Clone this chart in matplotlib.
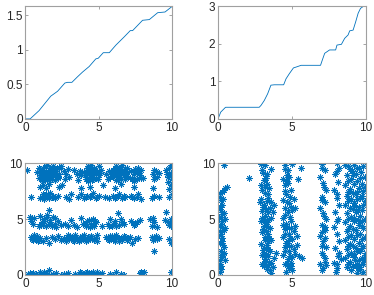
import numpy as np
import matplotlib
matplotlib.use("Agg")
from matplotlib import pyplot as plt
from matplotlib.ticker import FormatStrFormatter

# top-left curve (x, cumulative value)
tl_x = [0, 0.32, 0.93, 1.5, 1.73, 2.19, 2.69, 2.87, 3.17, 3.55, 3.9, 4.35, 4.8, 4.97,
        5.31, 5.72, 6.17, 6.74, 7.15, 7.31, 7.99, 8.45, 9.02, 9.52, 10]
tl_y = [0, 0, 0.12, 0.27, 0.33, 0.40, 0.52, 0.53, 0.53, 0.61, 0.68, 0.76, 0.87, 0.88,
        0.96, 0.96, 1.07, 1.19, 1.28, 1.28, 1.43, 1.44, 1.54, 1.55, 1.63]

# top-right staircase
tr_x = [0, 0.18, 0.48, 0.52, 2.78, 2.9, 3.12, 3.35, 3.57, 3.8, 4.43, 4.59, 4.82, 5.09,
        5.32, 5.61, 6.92, 7.04, 7.2, 7.53, 7.94, 8.03, 8.33, 8.55, 8.78, 8.89, 9.12,
        9.3, 9.46, 9.62, 9.8, 10]
tr_y = [0, 0.18, 0.30, 0.31, 0.31, 0.36, 0.49, 0.67, 0.90, 0.91, 0.91, 1.07, 1.21, 1.36,
        1.39, 1.43, 1.43, 1.57, 1.75, 1.84, 1.84, 1.97, 1.99, 2.15, 2.24, 2.35, 2.37,
        2.60, 2.82, 2.95, 3.0, 3.0]

# bottom-left scatter, grouped by horizontal band
bl_band9 = [(0.1, 9.4), (0.8, 9.2), (0.9, 8.7), (1.0, 9.5), (1.0, 8.9), (1.1, 9.1), (1.1, 8.5),
            (1.2, 9.6), (1.2, 9.0), (1.3, 8.7), (1.3, 9.3), (1.4, 8.9), (1.4, 9.7), (1.5, 9.1),
            (1.5, 8.6), (1.6, 9.4), (1.6, 8.8), (1.7, 9.0), (1.7, 9.6), (1.8, 8.6), (1.8, 9.2),
            (1.9, 8.9), (1.9, 9.5), (2.0, 9.1), (2.0, 8.5), (2.1, 9.3), (2.2, 8.8), (2.3, 9.6),
            (2.3, 9.0), (1.2, 8.4), (1.5, 9.8), (2.6, 9.3), (2.7, 8.6), (2.8, 9.0), (2.9, 9.5),
            (3.0, 8.8), (3.3, 9.4), (3.5, 9.0), (3.6, 8.5), (3.7, 9.3), (3.8, 8.9), (4.0, 9.2),
            (4.1, 8.6), (4.2, 9.6), (4.2, 9.0), (4.3, 8.4), (4.4, 9.4), (4.4, 8.8), (4.5, 9.8),
            (4.5, 9.1), (4.6, 8.6), (4.7, 9.5), (4.7, 9.0), (4.8, 8.7), (4.9, 9.3), (5.0, 8.9),
            (5.0, 9.7), (5.1, 9.1), (4.3, 9.7), (4.6, 9.3), (5.5, 9.0), (5.6, 8.6), (5.7, 9.3),
            (5.8, 8.8), (5.9, 9.1), (6.0, 9.4), (6.0, 8.8), (6.1, 9.1), (6.2, 8.5), (6.2, 9.7),
            (6.3, 9.2), (6.4, 8.8), (6.4, 9.5), (6.5, 9.0), (6.5, 8.6), (6.6, 9.8), (6.6, 9.3),
            (6.7, 8.9), (6.8, 9.5), (6.8, 8.6), (6.9, 9.2), (7.0, 8.8), (6.3, 8.5), (6.1, 9.6),
            (7.2, 9.3), (7.3, 8.7), (7.4, 9.0), (7.5, 9.5), (7.6, 8.6), (7.7, 9.2), (7.8, 8.9),
            (7.9, 9.4), (8.0, 8.7), (7.4, 8.4), (8.7, 9.0), (8.8, 8.6), (8.9, 9.3), (9.0, 8.8),
            (9.1, 9.1), (9.6, 9.4), (9.7, 8.8), (9.8, 9.6), (9.9, 9.1), (10.0, 8.6), (9.7, 8.3),
            (9.9, 9.8), (0.9, 9.6), (1.05, 9.25), (1.35, 9.05), (1.45, 8.45), (1.75, 8.75),
            (1.85, 9.75), (2.05, 8.95), (2.15, 9.55), (2.25, 8.65), (4.05, 8.9), (4.25, 9.3),
            (4.35, 9.05), (4.55, 8.5), (4.65, 9.6), (4.85, 9.2), (4.95, 8.6), (5.15, 9.4),
            (6.05, 9.15), (6.25, 8.95), (6.35, 9.55), (6.45, 9.25), (6.55, 9.65), (6.75, 9.15),
            (6.85, 8.85), (6.95, 9.55), (7.25, 8.55), (7.45, 9.25), (7.65, 9.55), (7.85, 8.65),
            (9.65, 9.05), (9.95, 8.9), (8.8, 9.4), (1.15, 8.8), (1.65, 8.55), (2.45, 9.7)]
bl_band8 = [(1.0, 7.9), (1.2, 8.0), (1.4, 7.8), (1.6, 8.1), (2.3, 7.9), (2.5, 8.0), (3.8, 7.8),
            (4.4, 7.9), (5.3, 8.0), (6.1, 7.8), (6.5, 8.1), (7.4, 7.9), (8.7, 7.8), (9.9, 8.0),
            (9.8, 7.7)]
bl_band7 = [(0.4, 7.0), (1.0, 6.9), (1.2, 7.2), (1.3, 6.8), (1.5, 7.1), (1.6, 6.9), (1.7, 7.3),
            (1.8, 7.0), (2.0, 6.9), (2.2, 7.1), (2.8, 7.0), (3.0, 6.8), (3.1, 7.2), (3.6, 7.0),
            (3.8, 7.2), (4.0, 6.9), (4.2, 7.1), (4.4, 7.0), (4.6, 7.3), (4.8, 6.9), (5.0, 7.1),
            (5.4, 7.0), (5.7, 6.9), (6.0, 7.1), (6.2, 7.0), (6.4, 7.2), (6.6, 6.9), (6.8, 7.0),
            (7.2, 7.1), (7.4, 6.9), (7.6, 7.0), (7.9, 6.8), (8.6, 6.9), (8.8, 7.1), (9.1, 7.0),
            (9.8, 7.0), (10.0, 7.2), (1.1, 7.0), (1.4, 7.2), (1.9, 7.1), (4.1, 7.0), (4.5, 7.1),
            (4.9, 7.0), (6.1, 6.9), (6.3, 7.1), (6.7, 7.1), (7.3, 7.0), (7.7, 7.2)]
bl_band5 = [(0.3, 5.2), (0.4, 4.8), (0.5, 4.6), (0.6, 5.1), (0.9, 4.4), (1.0, 5.3), (1.1, 4.7),
            (1.2, 4.5), (1.3, 5.0), (1.4, 4.4), (1.5, 5.4), (1.6, 5.8), (1.6, 4.6), (1.7, 4.9),
            (1.8, 4.4), (1.9, 5.2), (2.0, 4.6), (2.1, 4.3), (2.2, 4.8), (2.4, 4.5), (2.7, 4.6),
            (2.9, 4.4), (3.1, 4.9), (3.3, 4.5), (3.5, 4.3), (3.8, 5.1), (3.9, 4.6), (4.1, 4.4),
            (4.2, 4.8), (4.4, 4.3), (4.5, 4.6), (4.6, 5.0), (4.7, 4.4), (4.8, 4.7), (5.2, 4.4),
            (5.6, 4.6), (5.8, 5.0), (5.9, 4.4), (6.1, 4.8), (6.3, 5.5), (6.4, 4.5), (6.5, 5.0),
            (6.7, 4.6), (7.2, 4.8), (7.4, 4.5), (7.6, 4.7), (7.8, 4.9), (8.5, 5.0), (8.6, 4.4),
            (8.8, 4.7), (9.0, 4.3), (9.5, 4.9), (9.6, 5.6), (9.8, 4.5), (9.9, 5.0), (10.0, 4.8),
            (1.05, 4.55), (1.25, 4.85), (1.45, 5.15), (1.75, 4.55), (2.05, 5.05), (4.15, 4.6),
            (4.35, 4.95), (4.55, 4.4), (4.75, 4.85), (5.7, 4.4), (6.0, 4.6), (6.2, 4.4),
            (6.6, 4.7), (7.5, 4.6), (9.7, 4.7), (9.9, 4.4), (8.7, 5.1)]
bl_band3 = [(0.4, 3.4), (0.5, 3.1), (0.6, 3.6), (0.7, 3.2), (0.8, 3.5), (0.9, 3.1), (1.0, 3.3),
            (1.2, 3.0), (1.4, 3.3), (1.6, 2.9), (1.8, 3.4), (2.0, 3.2), (2.2, 3.5), (2.4, 3.1),
            (2.6, 3.3), (2.8, 3.0), (2.9, 3.6), (3.0, 3.2), (3.2, 3.4), (3.3, 3.0), (3.4, 3.6),
            (3.5, 3.2), (3.7, 3.4), (3.8, 3.1), (3.9, 3.3), (4.0, 3.6), (4.1, 3.0), (4.3, 3.4),
            (4.4, 3.2), (4.5, 3.5), (4.7, 3.1), (4.8, 3.3), (4.9, 3.0), (5.5, 3.4), (5.7, 3.1),
            (5.9, 3.5), (6.0, 3.2), (6.2, 3.6), (6.4, 3.0), (6.5, 3.3), (6.7, 3.5), (6.9, 3.1),
            (7.1, 3.4), (7.3, 2.9), (7.5, 3.2), (7.7, 3.3), (8.6, 3.4), (8.7, 3.1), (8.9, 3.5),
            (9.1, 3.3), (8.8, 2.1), (9.8, 3.2), (9.9, 2.9), (10.0, 3.1), (0.45, 3.2), (0.65, 3.35),
            (0.85, 3.0), (3.05, 3.45), (3.25, 3.15), (3.45, 3.35), (3.65, 3.0), (3.85, 3.5),
            (4.05, 3.25), (4.25, 3.1), (4.45, 3.45), (4.65, 3.25), (4.85, 3.55), (5.6, 3.25),
            (5.8, 3.45), (6.1, 3.0), (6.3, 3.3), (6.6, 3.15), (6.8, 3.4), (7.0, 3.25),
            (8.75, 3.3), (9.0, 3.2)]
bl_band0 = [(0.2, 0.1), (0.4, 0.0), (0.5, 0.2), (0.7, 0.1), (0.9, 0.0), (1.0, 0.3), (1.2, 0.1),
            (1.4, 0.2), (1.6, 0.4), (1.6, 0.0), (1.9, 0.1), (2.1, 0.2), (2.4, 0.0), (2.6, 0.1),
            (2.9, 0.2), (3.4, 0.1), (3.6, 0.0), (3.8, 0.2), (4.0, 0.1), (4.2, 0.3), (4.3, 0.0),
            (4.5, 0.2), (4.7, 0.1), (4.9, 0.3), (5.0, 0.0), (5.2, 0.2), (5.8, 0.1), (6.0, 0.0),
            (6.2, 0.3), (6.5, 0.1), (6.7, 0.0), (7.8, 0.2), (7.9, 0.0), (8.1, 0.3), (9.9, 0.3),
            (0.3, 0.2), (1.1, 0.0), (1.3, 0.3), (1.5, 0.1), (3.7, 0.3), (3.9, 0.0), (4.1, 0.2),
            (4.4, 0.1), (4.6, 0.3), (4.8, 0.0), (5.1, 0.1), (7.9, 0.3)]

# bottom-right scatter, grouped by vertical band
br_band0 = [(0.1, 0.3), (0.2, 0.8), (0.1, 1.3), (0.3, 1.6), (0.2, 2.1), (0.4, 2.5), (0.1, 2.9),
            (0.3, 3.3), (0.2, 3.7), (0.4, 4.0), (0.1, 4.4), (0.3, 4.8), (0.2, 5.2), (0.4, 5.5),
            (0.1, 5.9), (0.3, 6.3), (0.2, 6.7), (0.1, 7.0), (0.3, 7.4), (0.5, 7.8), (0.4, 7.6),
            (0.6, 7.9), (0.4, 9.8), (0.2, 0.5), (0.5, 1.3), (0.0, 3.5), (0.2, 4.6), (0.5, 4.2),
            (0.4, 2.0), (0.1, 6.1), (2.1, 8.7), (0.15, 1.0), (0.35, 1.9), (0.25, 3.0), (0.1, 3.9),
            (0.3, 4.3), (0.45, 5.0), (0.25, 5.6), (0.35, 6.8), (0.15, 7.3), (0.2, 1.8),
            (0.35, 2.7), (0.05, 5.2)]
br_band3 = [(2.9, 9.9), (3.0, 9.4), (3.2, 9.8), (3.3, 9.0), (3.1, 8.5), (3.0, 7.6), (3.2, 7.9),
            (3.4, 7.2), (2.9, 6.8), (3.1, 6.3), (3.3, 6.6), (3.5, 6.0), (3.0, 5.7), (3.2, 5.3),
            (3.4, 5.6), (3.6, 5.1), (2.9, 4.8), (3.1, 4.4), (3.3, 4.7), (3.5, 4.2), (3.0, 3.8),
            (3.2, 3.4), (3.4, 3.7), (3.6, 3.1), (2.9, 2.8), (3.1, 2.4), (3.3, 2.7), (3.5, 2.1),
            (3.0, 1.8), (3.2, 1.4), (3.4, 1.7), (3.6, 1.1), (3.1, 0.8), (3.3, 0.5), (3.5, 0.4),
            (3.7, 0.7), (3.8, 1.5), (3.9, 2.0), (3.7, 5.6), (3.8, 6.3), (2.8, 6.5), (2.9, 8.0),
            (3.3, 8.1), (3.6, 9.5), (3.4, 3.0), (3.0, 1.0), (3.05, 9.1), (3.25, 8.7), (3.15, 7.3),
            (3.35, 6.9), (3.05, 6.1), (3.25, 5.9), (3.45, 5.0), (3.15, 4.9), (3.35, 4.3),
            (3.05, 4.1), (3.25, 3.9), (3.45, 3.3), (3.15, 3.1), (3.35, 2.3), (3.05, 2.2),
            (3.25, 1.9), (3.45, 1.2), (3.15, 1.2), (3.35, 0.9), (3.55, 0.2), (2.95, 5.1),
            (3.55, 6.5), (3.45, 7.8)]
br_band4 = [(4.5, 9.8), (4.7, 9.4), (5.0, 9.9), (4.4, 8.6), (4.8, 8.8), (4.5, 8.0), (4.9, 7.6),
            (4.6, 7.2), (4.4, 6.7), (4.8, 6.4), (5.1, 6.8), (4.5, 6.0), (4.7, 5.6), (5.0, 5.8),
            (4.4, 5.1), (4.6, 4.6), (4.9, 4.8), (5.2, 4.4), (4.5, 4.1), (4.8, 3.7), (5.1, 3.9),
            (4.4, 3.4), (4.7, 3.0), (5.0, 3.2), (5.3, 2.7), (4.5, 2.5), (4.8, 2.1), (5.1, 2.3),
            (4.4, 1.8), (4.7, 1.4), (5.0, 1.6), (4.5, 1.0), (4.8, 0.6), (5.0, 0.4), (4.6, 0.3),
            (5.7, 1.5), (5.6, 9.6), (5.4, 8.6), (4.6, 8.4), (5.2, 6.0), (4.6, 2.9), (4.9, 1.1),
            (4.55, 9.5), (4.65, 8.9), (4.75, 8.2), (4.55, 7.5), (4.85, 7.0), (4.65, 6.5),
            (4.95, 6.1), (4.55, 5.4), (4.85, 5.2), (4.65, 4.3), (4.95, 4.2), (4.55, 3.7),
            (4.85, 3.3), (4.65, 2.7), (4.95, 2.6), (4.55, 2.1), (4.85, 1.7), (4.65, 1.1),
            (4.95, 0.8), (5.2, 1.9), (5.3, 3.5), (5.5, 1.7), (4.4, 4.5), (4.7, 0.8)]
br_band7 = [(7.0, 9.9), (7.2, 9.4), (6.9, 8.8), (7.1, 8.2), (7.3, 7.6), (7.0, 7.0), (7.2, 6.5),
            (6.9, 6.0), (7.1, 5.5), (7.3, 5.0), (7.0, 4.5), (7.2, 4.0), (6.9, 3.5), (7.1, 3.0),
            (7.3, 2.5), (7.0, 2.0), (7.2, 1.5), (6.9, 1.0), (7.1, 0.6), (7.3, 0.9), (7.0, 2.6),
            (7.2, 4.3), (8.0, 10.0), (8.2, 9.6), (7.9, 9.0), (8.1, 8.3), (7.8, 7.6), (8.0, 6.9),
            (8.2, 6.3), (7.9, 5.6), (8.1, 5.0), (7.8, 4.3), (8.0, 3.7), (8.2, 3.0), (7.9, 2.4),
            (8.1, 1.7), (7.8, 1.1), (8.0, 0.6), (8.3, 1.4), (7.05, 9.6), (7.15, 7.9), (7.05, 6.7),
            (7.15, 5.3), (7.05, 3.8), (7.2, 3.3), (7.1, 1.8), (7.2, 1.2), (7.0, 0.4), (8.05, 9.3),
            (8.05, 7.2), (8.0, 4.8), (8.15, 2.0), (8.05, 1.0), (7.95, 0.3)]
br_band9 = [(8.6, 9.8), (8.9, 9.5), (9.2, 9.8), (9.5, 9.6), (9.8, 9.7), (8.7, 8.9), (9.0, 8.6),
            (9.3, 9.0), (9.6, 8.7), (9.9, 8.8), (8.6, 8.0), (8.9, 7.7), (9.2, 8.1), (9.5, 7.8),
            (9.8, 7.5), (8.7, 7.1), (9.0, 6.8), (9.3, 7.2), (9.6, 6.9), (9.9, 6.6), (8.6, 6.3),
            (8.9, 6.0), (9.2, 6.4), (9.5, 6.1), (9.8, 6.3), (8.7, 5.5), (9.0, 5.2), (9.3, 5.6),
            (9.6, 5.3), (9.9, 5.0), (8.6, 4.7), (8.9, 4.4), (9.2, 4.8), (9.5, 4.5), (9.8, 4.2),
            (8.7, 3.9), (9.0, 3.6), (9.3, 4.0), (9.6, 3.7), (9.9, 3.4), (8.6, 3.1), (8.9, 2.8),
            (9.2, 3.2), (9.5, 2.9), (9.8, 2.6), (8.7, 2.3), (9.0, 2.0), (9.3, 2.4), (9.6, 2.1),
            (9.9, 1.8), (8.6, 1.5), (8.9, 1.2), (9.2, 1.6), (9.5, 1.3), (9.8, 1.0), (8.7, 0.7),
            (9.0, 0.4), (9.3, 0.8), (9.6, 0.5), (9.7, 0.0), (9.4, 0.2), (10.0, 2.0), (10.0, 6.5),
            (9.4, 7.4), (9.1, 5.9), (8.8, 3.4), (9.7, 4.8), (8.75, 9.7), (9.05, 9.3), (9.35, 9.6),
            (9.65, 9.2), (8.8, 8.4), (9.1, 8.9), (9.4, 8.4), (9.7, 8.1), (9.9, 7.9), (8.8, 7.4),
            (9.1, 7.3), (9.4, 6.8), (9.7, 7.1), (8.8, 6.6), (9.15, 6.2), (9.45, 5.8), (9.75, 5.8),
            (8.8, 5.0), (9.15, 5.1), (9.45, 4.9), (9.7, 4.4), (8.8, 4.1), (9.1, 4.1), (9.4, 3.6),
            (9.75, 3.2), (8.75, 2.6), (9.1, 2.6), (9.4, 2.1), (9.7, 2.4), (8.8, 1.8), (9.15, 1.9),
            (9.4, 1.0), (9.7, 1.5), (8.8, 1.0), (9.1, 0.8), (9.45, 0.6), (9.8, 0.3), (9.55, 0.9),
            (9.85, 1.3), (9.25, 1.3)]

blue = '#0072BD'
asterisk = (8, 2, 0)
plt.rcParams['font.family'] = ['Liberation Sans', 'DejaVu Sans']
plt.rcParams['font.size'] = 8.5

fig = plt.figure(figsize=(3.74, 2.95), dpi=100)
ax1 = fig.add_axes([0.068, 0.597, 0.392, 0.381])
ax2 = fig.add_axes([0.583, 0.597, 0.396, 0.381])
ax3 = fig.add_axes([0.068, 0.068, 0.392, 0.379])
ax4 = fig.add_axes([0.583, 0.068, 0.396, 0.379])

ax1.plot(tl_x, tl_y, color=blue, lw=0.6)
ax1.set_ylim(0, 1.63)
ax1.set_yticks([0, 0.5, 1, 1.5])

ax2.plot(tr_x, tr_y, color=blue, lw=0.6)
ax2.set_ylim(0, 3)
ax2.set_yticks([0, 1, 2, 3])

bl = np.array(bl_band9 + bl_band8 + bl_band7 + bl_band5 + bl_band3 + bl_band0)
ax3.plot(bl[:, 0], bl[:, 1], marker=asterisk, linestyle='', color=blue,
         markersize=4.5, mew=0.6)
ax3.set_ylim(0, 10)
ax3.set_yticks([0, 5, 10])

br = np.array(br_band0 + br_band3 + br_band4 + br_band7 + br_band9)
ax4.plot(br[:, 0], br[:, 1], marker=asterisk, linestyle='', color=blue,
         markersize=4.5, mew=0.6)
ax4.set_ylim(0, 10)
ax4.set_yticks([0, 5, 10])

for ax in (ax1, ax2, ax3, ax4):
    ax.set_xlim(0, 10)
    ax.set_xticks([0, 5, 10])
    ax.yaxis.set_major_formatter(FormatStrFormatter('%g'))
    ax.tick_params(direction='in', top=True, right=True, length=2.5, width=0.5,
                   color='#808080', labelcolor='#262626', pad=2)
    for s in ax.spines.values():
        s.set_color('#a0a0a0')
        s.set_linewidth(0.8)

fig.savefig('out.png', dpi=100)
